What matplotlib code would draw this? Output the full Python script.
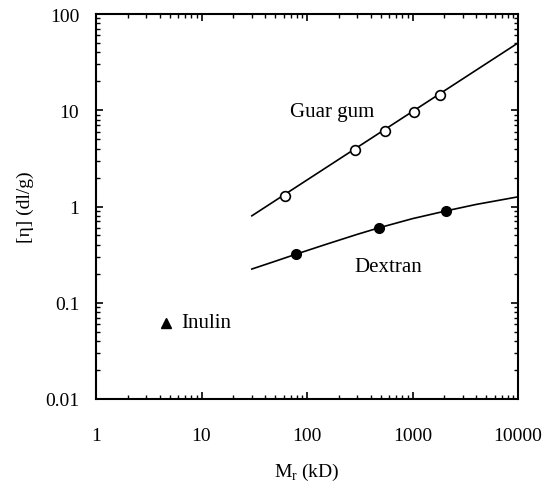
import matplotlib
matplotlib.use("Agg")
import matplotlib.pyplot as plt
from matplotlib.ticker import LogLocator, FixedLocator, NullFormatter

plt.rcParams['font.family'] = ['Liberation Serif', 'DejaVu Serif']
plt.rcParams['mathtext.fontset'] = 'custom'
plt.rcParams['mathtext.rm'] = 'Liberation Serif'

# Guar gum data (open circles) and fitted line
guar_x = [62, 285, 550, 1030, 1820]
guar_y = [1.29, 3.86, 6.1, 9.6, 14.4]
guar_fit_x = [30, 10000]
guar_fit_y = [0.8, 50]

# Dextran data (filled circles) and fitted curve
dex_x = [79, 480, 2080]
dex_y = [0.32, 0.60, 0.90]
dex_fit_x = [30, 50, 79, 150, 300, 480, 1000, 2080, 4000, 10000]
dex_fit_y = [0.224, 0.270, 0.32, 0.403, 0.514, 0.60, 0.748, 0.90, 1.05, 1.26]

# Inulin (single point)
inulin_x = [4.6]
inulin_y = [0.062]

xticks = [1, 10, 100, 1000, 10000]
xtick_labels = ['1', '10', '100', '1000', '10000']
yticks = [0.01, 0.1, 1, 10, 100]
ytick_labels = ['0.01', '0.1', '1', '10', '100']

fig = plt.figure(figsize=(5.5, 4.89), dpi=100)
ax = fig.add_axes([96 / 550, 1 - 400 / 489, (518 - 96) / 550, (400 - 15) / 489])

ax.plot(guar_fit_x, guar_fit_y, color='black', lw=1.2)
ax.plot(guar_x, guar_y, 'o', mfc='white', mec='black', mew=1.2, ms=7)
ax.plot(dex_fit_x, dex_fit_y, color='black', lw=1.2)
ax.plot(dex_x, dex_y, 'o', color='black', ms=7)
ax.plot(inulin_x, inulin_y, '^', color='black', ms=7)

ax.text(69, 9.8, 'Guar gum', fontsize=15, va='center', ha='left')
ax.text(279, 0.24, 'Dextran', fontsize=15, va='center', ha='left')
ax.text(6.4, 0.062, 'Inulin', fontsize=15, va='center', ha='left')

ax.set_xscale('log')
ax.set_yscale('log')
ax.set_xlim(1, 10000)
ax.set_ylim(0.01, 100)
ax.xaxis.set_major_locator(FixedLocator(xticks))
ax.set_xticklabels(xtick_labels)
ax.yaxis.set_major_locator(FixedLocator(yticks))
ax.set_yticklabels(ytick_labels)
ax.xaxis.set_minor_locator(LogLocator(base=10, subs=range(2, 10), numticks=20))
ax.yaxis.set_minor_locator(LogLocator(base=10, subs=range(2, 10), numticks=20))
ax.xaxis.set_minor_formatter(NullFormatter())
ax.yaxis.set_minor_formatter(NullFormatter())

ax.tick_params(which='both', direction='in', top=True, right=True, labelsize=14)
ax.tick_params(axis='x', which='major', length=5, width=1.2, pad=20)
ax.tick_params(axis='y', which='major', length=5, width=1.2, pad=12)
ax.tick_params(which='minor', length=3, width=1)
for s in ax.spines.values():
    s.set_linewidth(1.5)

ax.set_xlabel(r'M$_\mathregular{r}$ (kD)', fontsize=14, labelpad=12)
ax.set_ylabel('[η] (dl/g)', fontsize=14, labelpad=8)

fig.savefig('out.png', dpi=100)
